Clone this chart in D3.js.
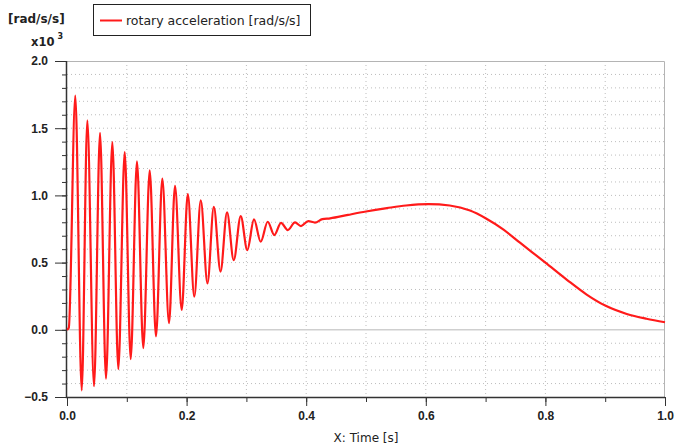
<!DOCTYPE html>
<html>
<head>
<meta charset="utf-8">
<script src="https://cdn.jsdelivr.net/npm/d3@7"></script>
<style>
  body { margin: 0; background: #fff; }
  svg { display: block; font-family: "DejaVu Sans", sans-serif; }
</style>
</head>
<body>
<script>
// time [s]
const time = [0, 0.003, 0.0139, 0.0246, 0.034, 0.0452, 0.0552, 0.0652, 0.0758, 0.0858,
  0.0965, 0.1065, 0.117, 0.1276, 0.1383, 0.1488, 0.1594, 0.1706, 0.1806, 0.1918,
  0.202, 0.2129, 0.2237, 0.2349, 0.2455, 0.2567, 0.2676, 0.2788, 0.2905, 0.3015,
  0.3127, 0.3239, 0.3356, 0.3467, 0.3579, 0.3691, 0.3813, 0.3913, 0.4035, 0.4147,
  0.427, 0.44, 0.47, 0.5, 0.535, 0.567, 0.605, 0.64, 0.674, 0.7,
  0.73, 0.7575, 0.8, 0.836, 0.869, 0.9, 0.936, 0.969, 1.0];
// rotary acceleration [rad/s/s]
const accel = [0, 15, 1743, -450, 1558, -420, 1466, -364, 1397, -292,
  1323, -218, 1254, -136, 1187, -49, 1125, 50, 1071, 148,
  1009, 247, 964, 346, 915, 433, 874, 518, 846, 593,
  821, 655, 804, 705, 796, 742, 799, 772, 809, 798,
  823, 829, 855, 880, 905, 925, 935, 925, 887, 830,
  745, 648, 500, 372, 262, 180, 118, 82, 56];

const xTicks = [0, 0.2, 0.4, 0.6, 0.8, 1.0];
const yTicks = [-500, 0, 500, 1000, 1500, 2000];

const w = 676, h = 446;
const margin = { top: 61, right: 11, bottom: 49, left: 67 };

const svg = d3.select("body").append("svg").attr("width", w).attr("height", h);

const x = d3.scaleLinear().domain([0, 1]).range([margin.left, w - margin.right]);
const y = d3.scaleLinear().domain([-500, 2000]).range([h - margin.bottom, margin.top]);

const xMinor = d3.range(0, 1.0001, 0.1);
const yMinor = d3.range(-500, 2000.1, 100);

// grid
svg.append("g").selectAll("line").data(xMinor.slice(1, -1)).join("line")
  .attr("x1", d => x(d)).attr("x2", d => x(d))
  .attr("y1", y(2000)).attr("y2", y(-500))
  .attr("stroke", "#bdbdbd").attr("stroke-dasharray", "1,3");
svg.append("g").selectAll("line").data(yMinor.slice(1, -1).filter(d => d !== 0)).join("line")
  .attr("x1", x(0)).attr("x2", x(1))
  .attr("y1", d => y(d)).attr("y2", d => y(d))
  .attr("stroke", "#bdbdbd").attr("stroke-dasharray", "1,3");

// zero line
svg.append("line")
  .attr("x1", x(0)).attr("x2", x(1)).attr("y1", y(0)).attr("y2", y(0))
  .attr("stroke", "#cfcfcf").attr("stroke-width", 1.5);

// top and right frame
svg.append("path")
  .attr("d", `M${x(0)},${y(2000) + 0.5}H${x(1) - 0.5}V${y(-500)}`)
  .attr("fill", "none").attr("stroke", "#b4b4b4");

// axes
const styleAxis = g => {
  g.select(".domain").remove();
  g.selectAll("line").attr("stroke", "#333");
  g.selectAll("text").attr("fill", "#222").attr("font-weight", "bold").attr("font-size", 12);
};

svg.append("g")
  .attr("transform", `translate(${x(0)},0)`)
  .call(d3.axisLeft(y).tickValues(yMinor).tickSize(5).tickFormat(""))
  .call(styleAxis);
svg.append("g")
  .attr("transform", `translate(${x(0)},0)`)
  .call(d3.axisLeft(y).tickValues(yTicks).tickSize(12).tickPadding(7)
    .tickFormat(d => d3.format(".1f")(d / 1000)))
  .call(styleAxis);

svg.append("g")
  .attr("transform", `translate(0,${y(-500)})`)
  .call(d3.axisBottom(x).tickValues(xMinor).tickSize(5).tickFormat(""))
  .call(styleAxis);
svg.append("g")
  .attr("transform", `translate(0,${y(-500)})`)
  .call(d3.axisBottom(x).tickValues(xTicks).tickSize(9).tickPadding(5)
    .tickFormat(d3.format(".1f")))
  .call(styleAxis);

svg.append("path")
  .attr("d", `M${x(0) - 0.5},${y(2000)}V${y(-500) + 0.5}H${x(1)}`)
  .attr("fill", "none").attr("stroke", "#333").attr("stroke-width", 1.5);

// series
const line = d3.line()
  .x((d, i) => x(time[i]))
  .y(d => y(d))
  .curve(d3.curveMonotoneX);

svg.append("path")
  .datum(accel)
  .attr("d", line)
  .attr("fill", "none")
  .attr("stroke", "#ff1a1a")
  .attr("stroke-width", 2.2)
  .attr("stroke-linejoin", "round");

// unit labels
svg.append("text").attr("x", 8).attr("y", 23)
  .attr("font-size", 12).attr("font-weight", "bold").attr("fill", "#222")
  .text("[rad/s/s]");
const xt = svg.append("text").attr("x", 31).attr("y", 46)
  .attr("font-size", 11.5).attr("font-weight", "bold").attr("fill", "#222");
xt.append("tspan").text("x10");
xt.append("tspan").attr("dx", 3).attr("dy", -7).attr("font-size", 8).text("3");

// legend
const legend = svg.append("g");
legend.append("rect")
  .attr("x", 93.5).attr("y", 4.5).attr("width", 217).attr("height", 31)
  .attr("fill", "#fff").attr("stroke", "#222");
legend.append("line")
  .attr("x1", 100).attr("x2", 122).attr("y1", 20.5).attr("y2", 20.5)
  .attr("stroke", "#ff1a1a").attr("stroke-width", 2);
legend.append("text").attr("x", 126).attr("y", 25)
  .attr("font-size", 12.5).attr("fill", "#222")
  .text("rotary acceleration [rad/s/s]");

// x axis title
svg.append("text")
  .attr("x", (x(0) + x(1)) / 2).attr("y", 442)
  .attr("text-anchor", "middle").attr("font-size", 12).attr("fill", "#222")
  .text("X: Time [s]");
</script>
</body>
</html>
